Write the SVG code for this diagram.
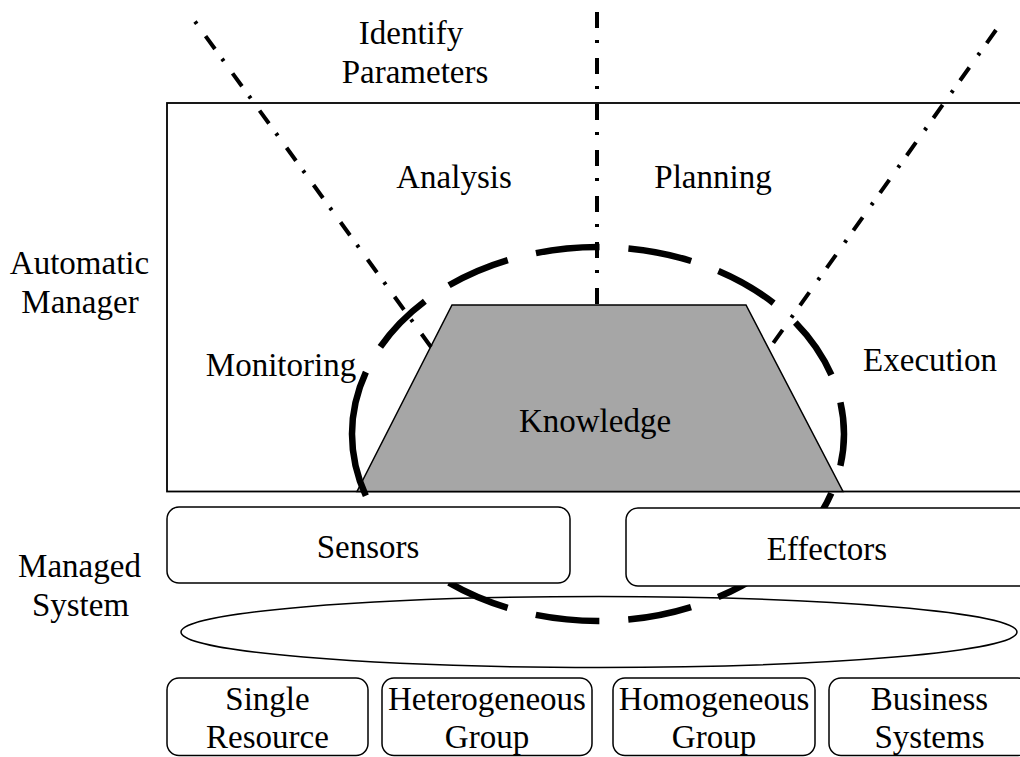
<svg xmlns="http://www.w3.org/2000/svg" width="1020" height="757" viewBox="0 0 1020 757">
<style>
text{font-family:"Liberation Serif","Times New Roman",serif;font-size:33px;fill:#000;text-anchor:middle}
.box{fill:#fff;stroke:#000;stroke-width:1.5}
.dd{fill:none;stroke:#000;stroke-width:4;stroke-dasharray:16 12 3 15}
</style>
<rect width="1020" height="757" fill="#fff"/>
<g id="manager">
<rect x="167" y="103" width="880" height="388.5" fill="#fff" stroke="#000" stroke-width="1.8"/>
</g>
<g id="knowledge">
<polygon points="452,305 746,305 843,491.5 357,491.5" fill="#a6a6a6" stroke="#000" stroke-width="1.5"/>
<text x="595" y="432">Knowledge</text>
</g>
<g id="labels">
<text x="411" y="44">Identify</text>
<text x="415" y="83">Parameters</text>
<text x="454" y="188">Analysis</text>
<text x="713" y="188">Planning</text>
<text x="281" y="376">Monitoring</text>
<text x="930" y="371">Execution</text>
<text x="79.5" y="274">Automatic</text>
<text x="80" y="313">Manager</text>
<text x="79.5" y="577">Managed</text>
<text x="80.5" y="616">System</text>
</g>
<g id="connectors">
<line class="dd" x1="195" y1="21.5" x2="431" y2="347" stroke-dashoffset="28"/>
<line class="dd" x1="597" y1="12" x2="597" y2="305"/>
<line class="dd" x1="996" y1="30" x2="769" y2="349"/>
</g>
<g id="resources-ellipse">
<ellipse cx="599" cy="632" rx="418" ry="35.5" fill="#fff" stroke="#000" stroke-width="1.5"/>
</g>
<g id="knowledge-scope">
<path d="M352,434 A246,187 0 0 1 844,434 A246,187 0 0 1 352,434" fill="none" stroke="#000" stroke-width="6.5" stroke-dasharray="64 29"/>
</g>
<g id="sensors">
<rect class="box" x="167" y="507" width="403" height="76" rx="12"/>
<text x="368" y="558">Sensors</text>
</g>
<g id="effectors">
<rect class="box" x="626" y="508" width="420" height="78" rx="12"/>
<text x="827" y="560">Effectors</text>
</g>
<g id="single-resource">
<rect class="box" x="167" y="678" width="201" height="77.5" rx="12"/>
<text x="267.5" y="710">Single</text>
<text x="267.5" y="748">Resource</text>
</g>
<g id="heterogeneous-group">
<rect class="box" x="382" y="678" width="210" height="77.5" rx="12"/>
<text x="487" y="710">Heterogeneous</text>
<text x="487" y="748">Group</text>
</g>
<g id="homogeneous-group">
<rect class="box" x="613" y="678" width="202" height="77.5" rx="12"/>
<text x="714" y="710">Homogeneous</text>
<text x="714" y="748">Group</text>
</g>
<g id="business-systems">
<rect class="box" x="829" y="678" width="201" height="77.5" rx="12"/>
<text x="929.5" y="710">Business</text>
<text x="929.5" y="748">Systems</text>
</g>
</svg>
